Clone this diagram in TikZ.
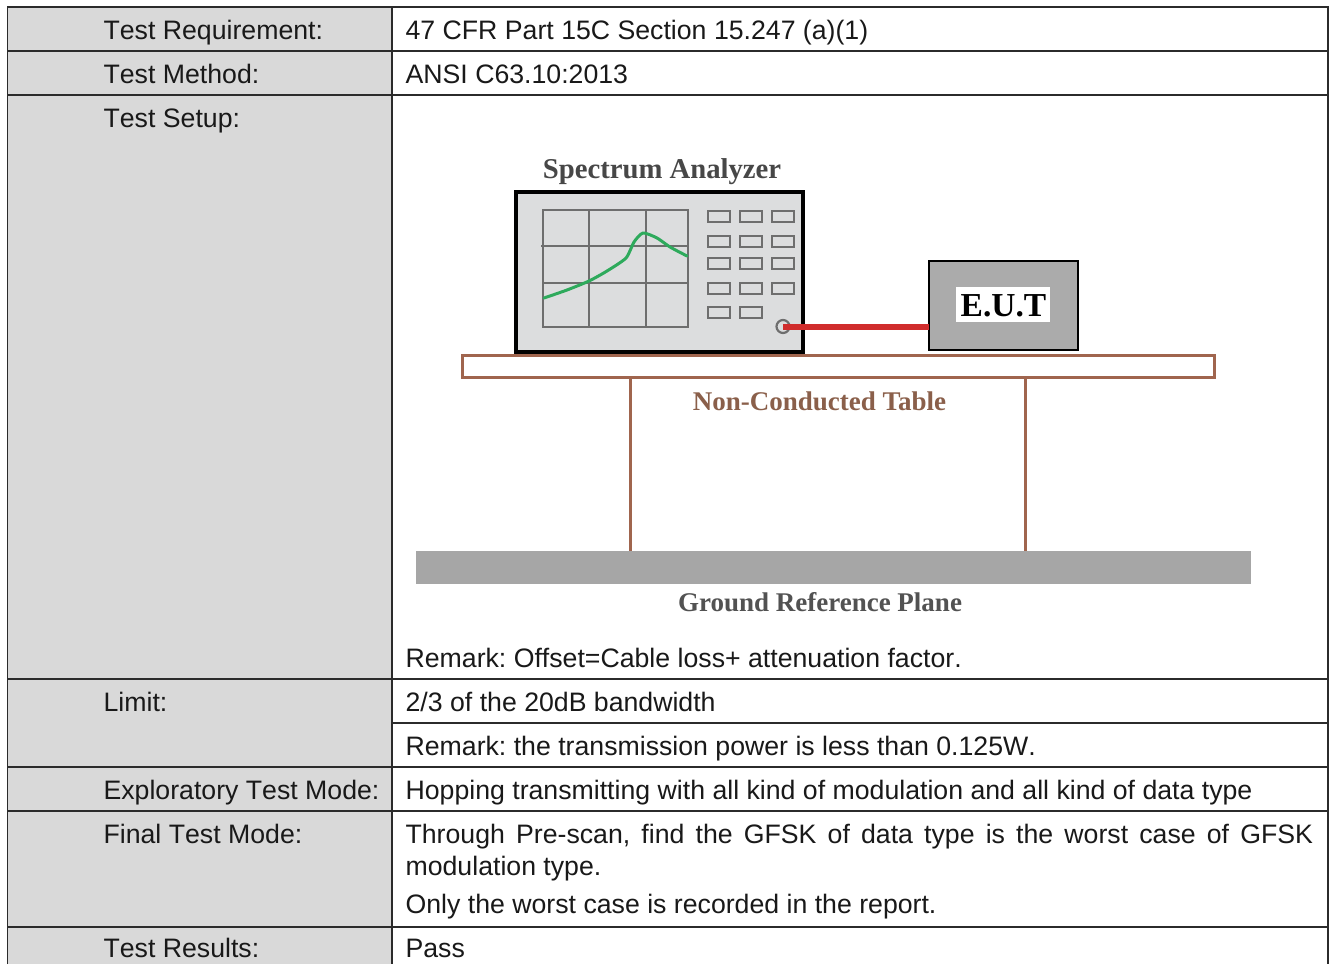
\documentclass[tikz,border=0pt]{standalone}
\usepackage{fontspec}
\setmainfont[Kerning=Off]{Liberation Sans}
\newfontfamily\serifbf[BoldFont={Liberation Serif Bold}]{Liberation Serif}
\definecolor{cellgray}{HTML}{D9D9D9}
\definecolor{rule}{HTML}{2B2B2B}
\definecolor{panel}{HTML}{DCDDDE}
\definecolor{gridgray}{HTML}{6E6E6E}
\definecolor{wood}{HTML}{A0654E}
\definecolor{woodtext}{HTML}{8A5F4A}
\definecolor{trace}{HTML}{2EAA5C}
\definecolor{cable}{HTML}{D02C2C}
\definecolor{eutgray}{HTML}{ABABAB}
\definecolor{plane}{HTML}{A6A6A6}
\tikzset{
  x=1pt,y=-1pt,
  cell/.style={anchor=base west,inner sep=0pt,outer sep=0pt,font=\frenchspacing\fontsize{26.68}{30}\selectfont,text=black!90},
  grule/.style={draw=rule,line width=1.5pt},
  gridline/.style={draw=gridgray,line width=2.6pt},
  keybtn/.style={draw=gridgray,line width=2.6pt,fill=panel},
  imgtext/.style={inner sep=0pt,outer sep=0pt,anchor=base,font=\serifbf\bfseries\fontsize{#1}{#1}\selectfont},
  woodline/.style={draw=wood,line width=3pt}
}
\begin{document}
\begin{tikzpicture}
\useasboundingbox (0,0) rectangle (1332,964);
\fill[white] (0,0) rectangle (1332,964);
% grey label column
\fill[cellgray] (7.5,7) rectangle (392,964);
% table rules
\draw[grule] (7.5,964) -- (7.5,7) -- (1328,7) -- (1328,964);
\draw[grule] (392,7) -- (392,964);
\foreach \yy in {51,95,679,767,811,927} \draw[grule] (7.5,\yy) -- (1328,\yy);
\draw[grule] (392,723) -- (1328,723);
% label column
\node[cell] (l1) at (103.6,39) {Test Requirement:};
\node[cell] (l2) at (103.6,83) {Test Method:};
\node[cell] (l3) at (103.6,127) {Test Setup:};
\node[cell] (l4) at (103.6,711) {Limit:};
\node[cell] (l5) at (103.6,799) {Exploratory Test Mode:};
\node[cell] (l6) at (103.6,843) {Final Test Mode:};
\node[cell] (l7) at (103.6,957) {Test Results:};
% value column
\node[cell] (v1) at (405.6,39) {47 CFR Part 15C Section 15.247 (a)(1)};
\node[cell] (v2) at (405.6,83) {ANSI C63.10:2013};
\node[cell] (v3) at (405.6,667) {Remark: Offset=Cable loss+ attenuation factor.};
\node[cell] (v4) at (405.6,711) {2/3 of the 20dB bandwidth};
\node[cell] (v5) at (405.6,755) {Remark: the transmission power is less than 0.125W.};
\node[cell] (v6) at (405.6,799) {Hopping transmitting with all kind of modulation and all kind of data type};
\node[cell] (v7) at (405.6,843) {\makebox[907.4pt][s]{Through Pre-scan, find the GFSK of data type is the worst case of GFSK}};
\node[cell] (v8) at (405.6,875) {modulation type.};
\node[cell] (v9) at (405.6,913) {Only the worst case is recorded in the report.};
\node[cell] (v10) at (405.6,957) {Pass};
% setup image
\node[imgtext=28.7,text=black!72] (sa) at (662,178) {Spectrum Analyzer};
\draw[black,line width=3.2pt,fill=panel] (516,192) rectangle (803,352);
\draw[gridline] (543,210) rectangle (688,327);
\draw[gridline] (589,210) -- (589,327);
\draw[gridline] (646,210) -- (646,327);
\draw[gridline] (541,246) -- (688,246);
\draw[gridline] (543,283) -- (688,283);
\draw[trace,line width=3pt,line join=round,line cap=round]
  plot[smooth,tension=0.4] coordinates {(544,298) (567,290) (589,281) (607,271) (626,258) (634,242) (643,233) (657,238) (670,247) (687,256)};
\foreach \bx/\by in {708/211,740/211,772/211,708/236,740/236,772/236,708/258,740/258,772/258,708/283,740/283,772/283,708/307,740/307}
  \draw[keybtn] (\bx,\by) rectangle ++(22,11);
\node[circle,draw=gridgray,line width=2.2pt,minimum size=13pt,inner sep=0pt,outer sep=0pt] (port) at (783,326.5) {};
% table and ground
\node[rectangle,draw=wood,line width=2.4pt,fill=white,minimum width=752pt,minimum height=22pt,inner sep=0pt,outer sep=0pt,anchor=north west] (tbl) at (462.5,355.5) {};
\node[rectangle,fill=plane,minimum width=835.5pt,minimum height=33pt,inner sep=0pt,outer sep=0pt,anchor=north west] (gnd) at (415.5,550.5) {};
\coordinate (legAtop) at (630,377);
\coordinate (legAbot) at (630,551);
\coordinate (legBtop) at (1025,377);
\coordinate (legBbot) at (1025,551);
\draw[woodline] (legAtop) -- (legAbot);
\draw[woodline] (legBtop) -- (legBbot);
\node[imgtext=27,text=woodtext] (nct) at (819.5,410) {Non-Conducted Table};
\node[imgtext=27,text=black!68] (grp) at (820,611) {Ground Reference Plane};
% EUT
\node[rectangle,draw=black,line width=2.8pt,fill=eutgray,minimum width=149pt,minimum height=89pt,inner sep=0pt,outer sep=0pt] (eut) at (1003.5,305.5) {};
\node[rectangle,fill=white,minimum width=94pt,minimum height=35pt,inner sep=0pt] (eutbg) at (1003,304.5) {};
\node[imgtext=33.5,text=black] (eutl) at (1003.5,316) {E.U.T};
% cable
\draw[cable,line width=6pt] (port.center) -- (eut.west |- port.center);
\end{tikzpicture}
\end{document}
